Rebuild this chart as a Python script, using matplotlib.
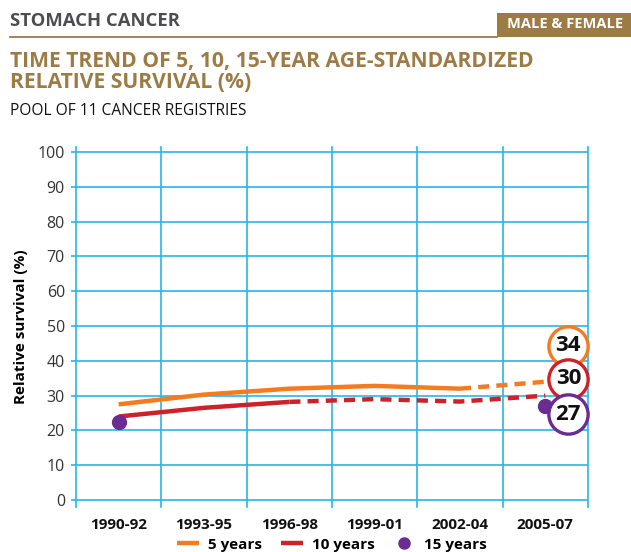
import matplotlib
matplotlib.use("Agg")
import matplotlib.pyplot as plt
from matplotlib.lines import Line2D
from matplotlib.patches import Rectangle

plt.rcParams['font.family'] = ['Open Sans', 'DejaVu Sans']

periods = ["1990-92", "1993-95", "1996-98", "1999-01", "2002-04", "2005-07"]
surv_5y = [27.5, 30.3, 32.0, 32.8, 32.0, 34.0]
surv_10y = [24.0, 26.5, 28.2, 29.0, 28.3, 30.0]
surv_15y_idx = [0, 5]
surv_15y = [22.5, 27.0]
yticks = [0, 10, 20, 30, 40, 50, 60, 70, 80, 90, 100]
final_labels = ["34", "30", "27"]

ORANGE = "#f47b20"
RED = "#cc2229"
PURPLE = "#6b2c91"
GOLD = "#9c7b45"
GRID = "#29b6e8"

fig = plt.figure(figsize=(6.31, 5.52), dpi=100)
W, H = 631, 552

# header
fig.text(10 / W, 1 - 21.5 / H, "STOMACH CANCER", fontsize=13.3, fontweight="bold",
         color="#4d4d4f", va="center", ha="left")
fig.add_artist(Line2D([10 / W, 497 / W], [1 - 37 / H, 1 - 37 / H], color=GOLD, lw=1.3))
fig.add_artist(Rectangle((497 / W, 1 - 37 / H), 134 / W, 24 / H, color=GOLD, lw=0))
fig.text(565 / W, 1 - 24.5 / H, "MALE & FEMALE", fontsize=10.5, fontweight="bold",
         color="white", va="center", ha="center")

fig.text(10 / W, 1 - 67 / H, "TIME TREND OF 5, 10, 15-YEAR AGE-STANDARDIZED", fontsize=15.2,
         fontweight="bold", color=GOLD, va="baseline", ha="left")
fig.text(10 / W, 1 - 88 / H, "RELATIVE SURVIVAL (%)", fontsize=15.2,
         fontweight="bold", color=GOLD, va="baseline", ha="left")
fig.text(10 / W, 1 - 115 / H, "POOL OF 11 CANCER REGISTRIES", fontsize=11.2,
         color="#111111", va="baseline", ha="left")

ax = fig.add_axes([76 / W, 45 / H, 512 / W, 360 / H])
x = list(range(len(periods)))
ax.set_xlim(-0.5, 5.5)
ax.set_ylim(-2.0, 101.45)
for s in ax.spines.values():
    s.set_visible(False)

ax.hlines(yticks, -0.56, 5.5, colors=GRID, lw=1.2, clip_on=False, zorder=1)
for b in [i - 0.5 for i in range(len(periods) + 1)]:
    ax.axvline(b, color=GRID, lw=1.2, clip_on=False, zorder=1)

ax.set_yticks(yticks)
ax.set_yticklabels([str(v) for v in yticks], fontsize=11.5, color="#333333")
ax.set_xticks(x)
ax.set_xticklabels(periods, fontsize=11, fontweight="bold", color="#111111")
ax.tick_params(length=0, pad=8)
ax.tick_params(axis="x", pad=8)
ax.set_ylabel("Relative survival (%)", fontsize=11, fontweight="bold", labelpad=7)

# 5 years: solid to 2002-04, dashed after
l5, = ax.plot(x[:5], surv_5y[:5], color=ORANGE, lw=3.2, solid_capstyle="butt", zorder=3)
ax.plot(x[4:], surv_5y[4:], color=ORANGE, lw=3.2, ls=(0, (2.5, 1.6)), zorder=3)
# 10 years: solid to 1996-98, dashed after
l10, = ax.plot(x[:3], surv_10y[:3], color=RED, lw=3.2, solid_capstyle="butt", zorder=3)
ax.plot(x[2:], surv_10y[2:], color=RED, lw=3.2, ls=(0, (2.5, 1.6)), zorder=3)
p15, = ax.plot(surv_15y_idx, surv_15y, "o", color=PURPLE, ms=10, ls="none", zorder=4)

# value badges at right end
badge_y = [44.3, 34.8, 24.7]
for lab, yy, col in zip(final_labels, badge_y, [ORANGE, RED, PURPLE]):
    ax.scatter([5.27], [yy], s=800, facecolor="white", edgecolor=col, linewidths=2.4,
               clip_on=False, zorder=5)
    ax.text(5.27, yy, lab, fontsize=16, fontweight="bold", color="#111111",
            ha="center", va="center", clip_on=False, zorder=6)

leg = ax.legend([l5, l10, p15], ["5 years", "10 years", "15 years"], ncol=3,
                loc="center", bbox_to_anchor=(0.5, -0.105), frameon=False,
                handlelength=1.45, handletextpad=0.6, columnspacing=1.2,
                prop={"weight": "bold", "size": 11}, borderpad=0, markerscale=0.8)

fig.savefig("out.png", dpi=100)
